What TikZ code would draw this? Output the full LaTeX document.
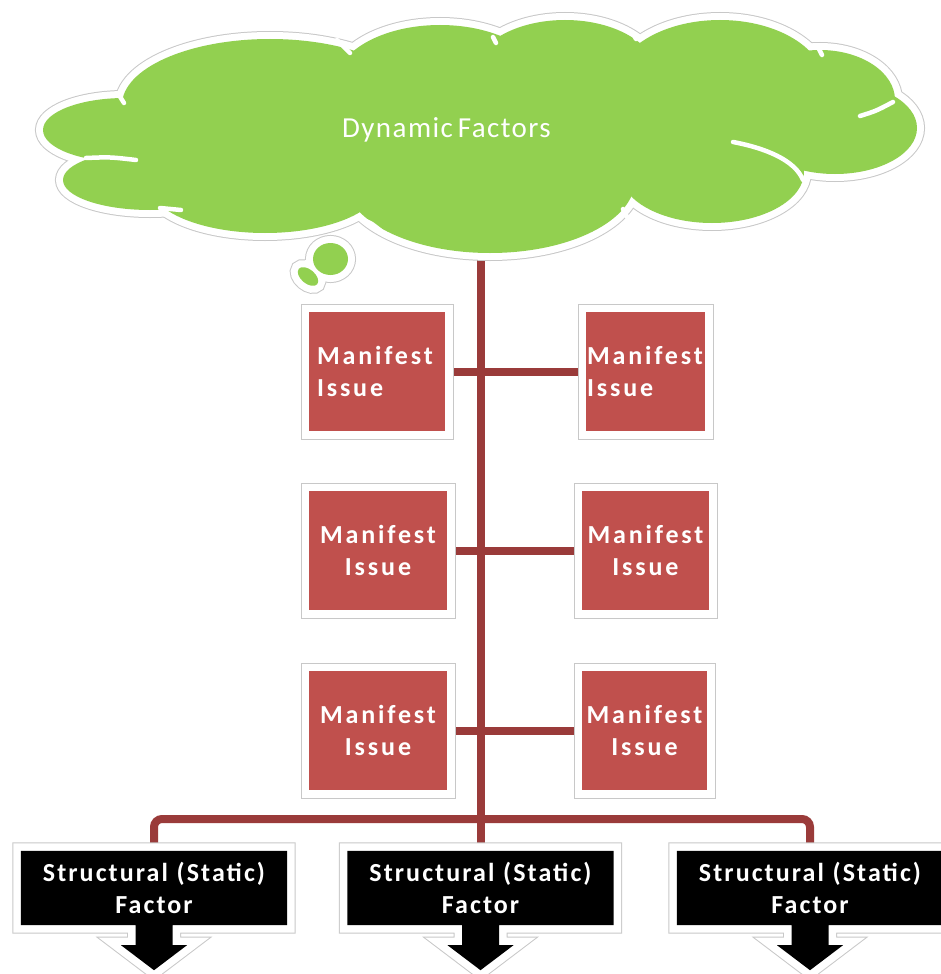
\documentclass[tikz,border=0pt]{standalone}
\usepackage{fontspec}
\setmainfont{Carlito}
\newfontfamily\cloudfont[LetterSpace=5,WordSpace=0.6]{Carlito}
\newfontfamily\manfont[LetterSpace=11,WordSpace=0.5]{Carlito}
\newfontfamily\strfont[LetterSpace=8,WordSpace=0.4]{Carlito}
\usetikzlibrary{calc}
\pgfdeclarelayer{lines}
\pgfdeclarelayer{shapes}
\pgfsetlayers{lines,shapes,main}
\definecolor{cgreen}{HTML}{92D050}
\definecolor{cred}{HTML}{C0504D}
\definecolor{ctrunk}{HTML}{9A3B3A}
\definecolor{cframe}{HTML}{C8C8C8}
\tikzset{
  trunk/.style={draw=ctrunk, line width=8pt},
  framed/.style={preaction={draw=cframe, line width=17pt}, preaction={draw=white, line width=15pt}},
  manbox/.style={framed, fill=cred, inner sep=0pt, text=white, minimum height=119pt,
    font={\manfont\bfseries\fontsize{26pt}{32pt}\selectfont}},
  strbox/.style={inner sep=0pt, text=white, align=center, text width=262pt,
    minimum width=266pt, minimum height=74pt,
    font={\strfont\bfseries\fontsize{26pt}{32pt}\selectfont}},
  calloutshape/.style={framed, fill=black, line join=miter},
  cloudrim/.style={draw=cframe, line width=16pt},
  cloudedge/.style={draw=white, line width=14pt},
  cloudfill/.style={fill=cgreen},
  cloudline/.style={draw=white, line width=4.5pt, line cap=round},
}
\newcommand\mkcallout[1]{%
  \path[calloutshape] (#1.north west) -- (#1.north east) -- (#1.south east)
    -- ($(#1.south)+(18.5,0)$) -- ++(0,20) -- ++(14.5,0) -- ($(#1.south)+(0,45)$)
    -- ($(#1.south)+(-33,20)$) -- ++(14.5,0) -- ($(#1.south)+(-18.5,0)$)
    -- (#1.south west) -- cycle;}
\newcommand\cloudbumps[1]{%
  \path[#1] (270,105) ellipse [x radius=148pt, y radius=66pt];
  \path[#1] (125,130) ellipse [x radius=82pt, y radius=32pt];
  \path[#1] (150,180) ellipse [x radius=87pt, y radius=30pt];
  \path[#1] (265,185) ellipse [x radius=115pt, y radius=48pt];
  \path[#1] (490,180) ellipse [x radius=145pt, y radius=73pt];
  \path[#1] (712,172) ellipse [x radius=92pt, y radius=51pt];
  \path[#1] (835,128) ellipse [x radius=82pt, y radius=46pt];
  \path[#1] (820,100) ellipse [x radius=75pt, y radius=50pt];
  \path[#1] (720,85) ellipse [x radius=105pt, y radius=65pt];
  \path[#1] (565,75) ellipse [x radius=92pt, y radius=55pt];
  \path[#1] (440,85) ellipse [x radius=105pt, y radius=60pt];
  \path[#1] (330.5,259) ellipse [x radius=17.5pt, y radius=16pt];
  \path[#1, rotate around={-40:(308,276.5)}] (308,276.5) ellipse [x radius=12pt, y radius=7pt];
}
\begin{document}
\begin{tikzpicture}[x=1pt,y=-1pt]
\useasboundingbox (0,0) rectangle (940,974);

% cloud label
\node[text=white, anchor=base, inner sep=0pt,
  font={\cloudfont\fontsize{29pt}{34pt}\selectfont}] (cloud) at (446.5,137) {Dynamic Factors};

% manifest issues
\node[manbox, minimum width=136pt, text width=120pt, align=left] (m1l) at (377,371.5) {Manifest\\Issue};
\node[manbox, minimum width=119pt, text width=117pt, align=left] (m1r) at (645.5,371.5) {Manifest\\Issue};
\node[manbox, minimum width=138pt, text width=130pt, align=center] (m2l) at (378,550.5) {Manifest\\Issue};
\node[manbox, minimum width=127pt, text width=125pt, align=center] (m2r) at (645.5,550.5) {Manifest\\Issue};
\node[manbox, minimum width=138pt, text width=130pt, align=center] (m3l) at (378,730.5) {Manifest\\Issue};
\node[manbox, minimum width=125pt, text width=123pt, align=center] (m3r) at (644.5,730.5) {Manifest\\Issue};

% structural factors
\node[strbox] (s1) at (154,888) {Structural (Static)\\Factor};
\node[strbox] (s2) at (480.5,888) {Structural (Static)\\Factor};
\node[strbox] (s3) at (810,888) {Structural (Static)\\Factor};

\coordinate (ctop) at (480.5,250);
\coordinate (bus) at (480.5,819);

\begin{pgfonlayer}{lines}
  \fill[white] (0,0) rectangle (940,974);
  \draw[trunk] (ctop) -- (s2.north);
  \draw[trunk] (m1l) -- (m1r);
  \draw[trunk] (m2l) -- (m2r);
  \draw[trunk] (m3l) -- (m3r);
  \draw[trunk, rounded corners=8pt] (s1.north) |- (bus) -| (s3.north);
\end{pgfonlayer}

\begin{pgfonlayer}{shapes}
  \cloudbumps{cloudrim}
  \cloudbumps{cloudedge}
  \cloudbumps{cloudfill}
  \fill[cgreen] (125,130) -- (270,105) -- (440,85) -- (565,75) -- (720,85) -- (820,100)
    -- (835,128) -- (712,172) -- (490,180) -- (265,185) -- (150,180) -- cycle;
  \draw[cloudline] (337,40) -- (350,53);
  \draw[cloudline] (119,95) -- (124,103);
  \draw[cloudline] (86,158) .. controls (110,157) .. (136,160);
  \draw[cloudline] (160,208) -- (181,210);
  \draw[cloudline] (363,220) .. controls (371,223) .. (381,231);
  \draw[cloudline] (623,209) -- (627,217);
  \draw[cloudline] (733,142) .. controls (765,148) and (795,160) .. (803,180);
  \draw[cloudline] (860,116) .. controls (876,111) .. (893,102);
  \draw[cloudline] (819,49) -- (822,55);
  \draw[cloudline] (633,33) -- (636,39);
  \draw[cloudline] (493,37) -- (496,43);
  \mkcallout{s1}
  \mkcallout{s2}
  \mkcallout{s3}
\end{pgfonlayer}
\end{tikzpicture}
\end{document}
